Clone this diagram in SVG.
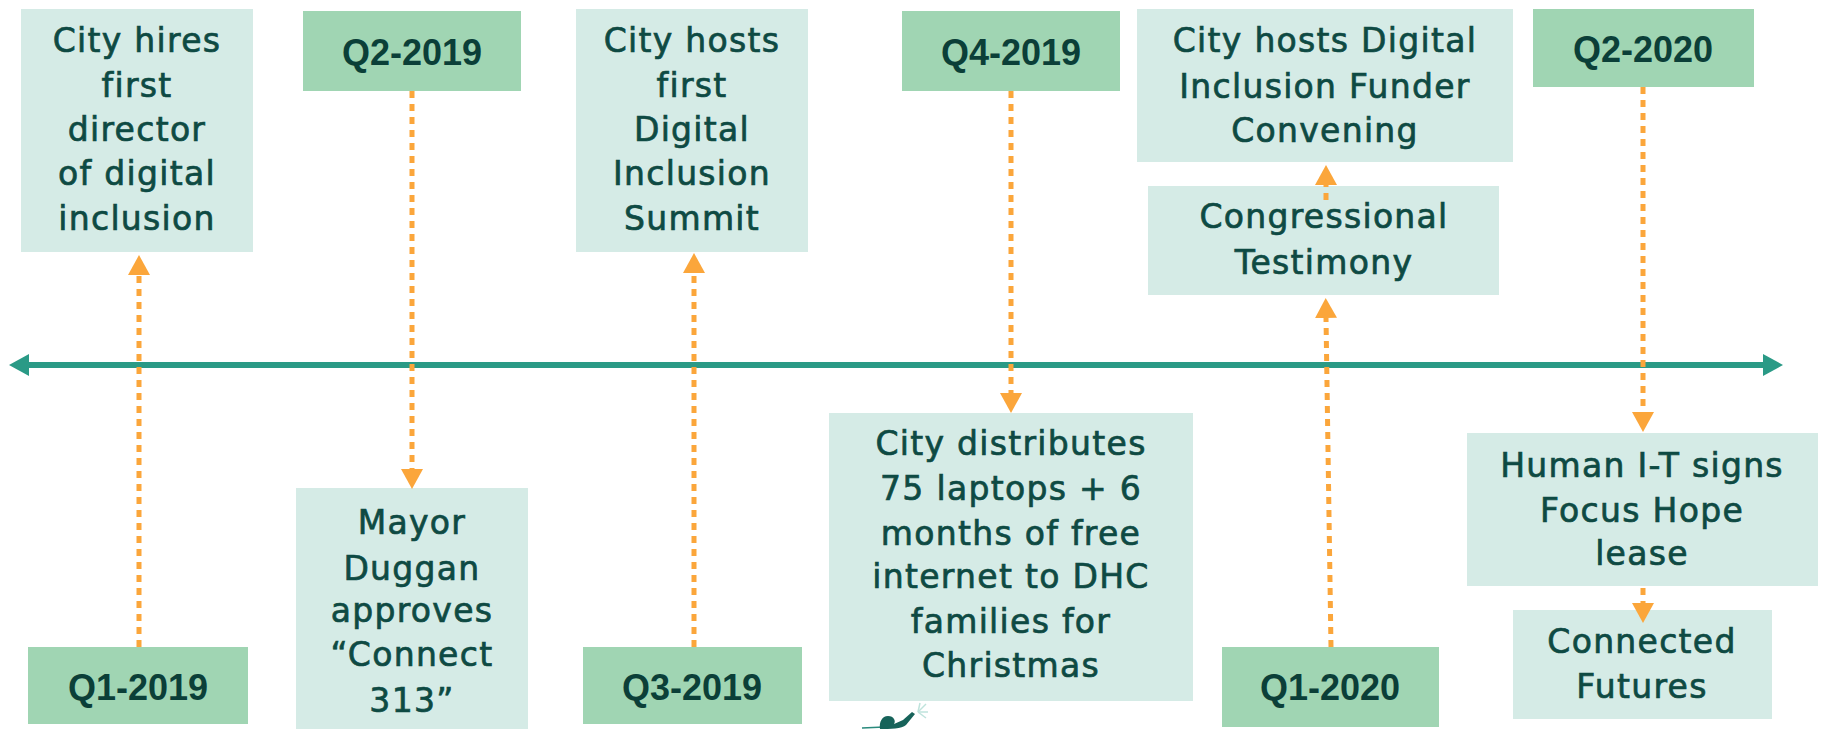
<svg xmlns="http://www.w3.org/2000/svg" width="1822" height="729" viewBox="0 0 1822 729">
<style>
.ev{fill:#d5ebe6}
.q{fill:#a0d5b3}
.t{font-family:"DejaVu Sans","Liberation Sans",sans-serif;font-size:33px;letter-spacing:1.3px;fill:#0e4a43;stroke:#0e4a43;stroke-width:0.7px;text-anchor:middle}
.qt{font-family:"Liberation Sans",Arial,sans-serif;font-weight:bold;font-size:36px;fill:#0b3f38;text-anchor:middle}
.dot{stroke:#fba63b;stroke-width:5;stroke-dasharray:7 6;fill:none;marker-end:url(#ah)}
.axis{stroke:#2a9a86;stroke-width:6;fill:none}
</style>
<defs>
<marker id="ah" markerUnits="userSpaceOnUse" markerWidth="20" markerHeight="22" refX="0" refY="11" orient="auto" viewBox="0 0 20 22"><path d="M0,0 L20,11 L0,22 z" fill="#fba63b"/></marker>
<marker id="ax" markerUnits="userSpaceOnUse" markerWidth="20" markerHeight="22" refX="0" refY="11" orient="auto" viewBox="0 0 20 22"><path d="M0,0 L20,11 L0,22 z" fill="#2a9a86"/></marker>
</defs>
<rect width="1822" height="729" fill="#ffffff"/>

<g id="n1"><rect class="ev" x="21" y="9" width="232" height="243"/>
<text class="t" x="137"><tspan x="137" y="52">City hires</tspan><tspan x="137" y="97">first</tspan><tspan x="137" y="141">director</tspan><tspan x="137" y="185">of digital</tspan><tspan x="137" y="230">inclusion</tspan></text></g>

<g id="n2"><rect class="q" x="303" y="11" width="218" height="80"/><text class="qt" x="412" y="65">Q2-2019</text></g>

<g id="n3"><rect class="ev" x="576" y="9" width="232" height="243"/>
<text class="t" x="692"><tspan x="692" y="52">City hosts</tspan><tspan x="692" y="97">first</tspan><tspan x="692" y="141">Digital</tspan><tspan x="692" y="185">Inclusion</tspan><tspan x="692" y="230">Summit</tspan></text></g>

<g id="n4"><rect class="q" x="902" y="11" width="218" height="80"/><text class="qt" x="1011" y="65">Q4-2019</text></g>

<g id="n5"><rect class="ev" x="1137" y="9" width="376" height="153"/>
<text class="t" x="1325"><tspan x="1325" y="52">City hosts Digital</tspan><tspan x="1325" y="98">Inclusion Funder</tspan><tspan x="1325" y="142">Convening</tspan></text></g>

<g id="n6"><rect class="ev" x="1148" y="186" width="351" height="109"/>
<text class="t" x="1324"><tspan x="1324" y="228">Congressional</tspan><tspan x="1324" y="274">Testimony</tspan></text></g>

<g id="n7"><rect class="q" x="1533" y="9" width="221" height="78"/><text class="qt" x="1643" y="62">Q2-2020</text></g>

<g id="n8"><rect class="q" x="28" y="647" width="220" height="77"/><text class="qt" x="138" y="700">Q1-2019</text></g>

<g id="n9"><rect class="ev" x="296" y="488" width="232" height="250"/>
<text class="t" x="412"><tspan x="412" y="534">Mayor</tspan><tspan x="412" y="580">Duggan</tspan><tspan x="412" y="622">approves</tspan><tspan x="412" y="666">“Connect</tspan><tspan x="412" y="712">313”</tspan></text></g>

<g id="n10"><rect class="q" x="583" y="647" width="219" height="77"/><text class="qt" x="692" y="700">Q3-2019</text></g>

<g id="n11"><rect class="ev" x="829" y="413" width="364" height="288"/>
<text class="t" x="1011"><tspan x="1011" y="455">City distributes</tspan><tspan x="1011" y="500">75 laptops + 6</tspan><tspan x="1011" y="545">months of free</tspan><tspan x="1011" y="588">internet to DHC</tspan><tspan x="1011" y="633">families for</tspan><tspan x="1011" y="677">Christmas</tspan></text></g>

<g id="n12"><rect class="q" x="1222" y="647" width="217" height="80"/><text class="qt" x="1330" y="700">Q1-2020</text></g>

<g id="n13"><rect class="ev" x="1467" y="433" width="351" height="153"/>
<text class="t" x="1642"><tspan x="1642" y="477">Human I-T signs</tspan><tspan x="1642" y="522">Focus Hope</tspan><tspan x="1642" y="565">lease</tspan></text></g>

<g id="n14"><rect class="ev" x="1513" y="610" width="259" height="109"/>
<text class="t" x="1642"><tspan x="1642" y="653">Connected</tspan><tspan x="1642" y="698">Futures</tspan></text></g>

<g id="icon">
<path d="M862,728 L884,727" stroke="#2a8a7d" stroke-width="1.5" fill="none"/>
<path d="M880,729 C879,722 882,716 888,716 C894,716 896,721 894,724 L903,720 L912,712 L915,714 L906,725 C902,729 890,729 880,729 z" fill="#17635a"/>
<g stroke="#bfe3dc" stroke-width="1.5"><path d="M918,712 L926,704"/><path d="M918,712 L928,712"/><path d="M918,712 L920,703"/><path d="M918,712 L926,718"/></g>
</g>

<g id="connectors">
<path class="axis" d="M896,365 L29,365" marker-end="url(#ax)"/>
<path class="axis" d="M896,365 L1763,365" marker-end="url(#ax)"/>
<path class="dot" d="M139,647 L139,275"/>
<path class="dot" d="M412,91 L412,469"/>
<path class="dot" d="M694,647 L694,273"/>
<path class="dot" d="M1011,91 L1011,393"/>
<path class="dot" d="M1331,647 L1326,318"/>
<path class="dot" d="M1326,200 L1326,185"/>
<path class="dot" d="M1643,87 L1643,412"/>
<path class="dot" d="M1643,588 L1643,603"/>
</g>
</svg>
